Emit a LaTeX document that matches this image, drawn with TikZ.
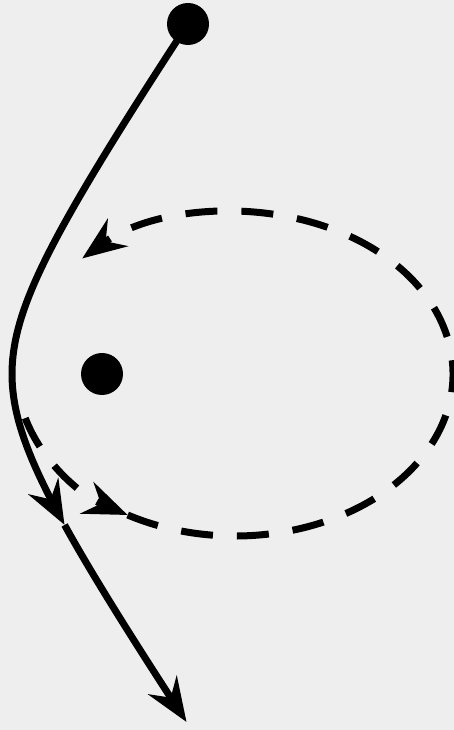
\documentclass[tikz,border=0pt]{standalone}
\usetikzlibrary{arrows.meta}
\definecolor{bgpaper}{HTML}{EEEEEE}
\begin{document}
\begin{tikzpicture}[
  x=1pt, y=1pt,
  body/.style={circle, fill=black, minimum size=42pt, inner sep=0pt},
  flyby/.style={line width=7pt, black},
  orbit/.style={line width=7pt, black, dash pattern=on 32pt off 24pt},
  >={Stealth[length=44pt, width=34pt, inset=15pt]}
]

% background and frame
\fill[bgpaper] (0,0) rectangle (454,730);
\useasboundingbox (0,0) rectangle (454,730);

% === Bodies ===
\node[body] (probe) at (188,706) {};
\node[body] (planet) at (102,356) {};

% === Hyperbolic flyby (solid) ===
\coordinate (kink) at ({-63.3+75.3*cosh(-1.122)}, {356+110*sinh(-1.122)});
\draw[flyby, ->] plot[domain=1.874:-1.122, samples=60, variable=\t]
  ({-63.3+75.3*cosh(\t)}, {356+110*sinh(\t)});
\draw[flyby, ->] plot[domain=-1.122:-1.869, samples=30, variable=\t]
  ({-63.3+75.3*cosh(\t)}, {356+110*sinh(\t)});

% === Captured orbit (dashed) ===
\coordinate (centre) at (235,356);
\coordinate (entry) at ([shift={(195.8:218 and 162)}]centre);
\coordinate (lowtip) at ([shift={(240.5:218 and 162)}]centre);
\draw[orbit, ->] (entry)
  arc[start angle=195.8, end angle=240.5, x radius=218pt, y radius=162pt];
\draw[orbit, ->] (lowtip)
  arc[start angle=240.5, end angle=494.5, x radius=218pt, y radius=162pt];

\end{tikzpicture}
\end{document}
